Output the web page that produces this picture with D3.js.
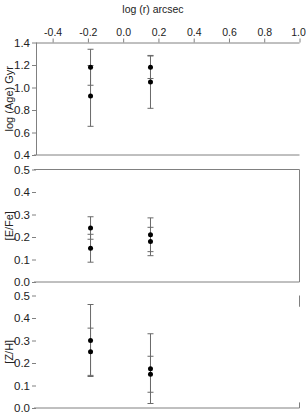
<!DOCTYPE html>
<html>
<head>
<meta charset="utf-8">
<script src="https://cdn.jsdelivr.net/npm/d3@7/dist/d3.min.js"></script>
<style>
	body { margin: 0; background: #fff; }
	svg { display: block; }
	text { font-family: "Liberation Sans", Arial, sans-serif; fill: #222; }
</style>
</head>
<body>
<svg id="chart" width="306" height="414"></svg>
<script>
// radial positions, log(r) arcsec
const xPos = [-0.185, 0.155];
const xTicks = [-0.4, -0.2, 0.0, 0.2, 0.4, 0.6, 0.8, 1.0];

// log(Age) Gyr
const ageA = [1.18, 1.18];
const ageErrA = [0.16, 0.10];
const ageB = [0.925, 1.05];
const ageErrB = [0.27, 0.235];

// [E/Fe]
const efeA = [0.24, 0.21];
const efeErrA = [0.05, 0.075];
const efeB = [0.15, 0.18];
const efeErrB = [0.062, 0.063];

// [Z/H]
const zhA = [0.30, 0.175];
const zhErrA = [0.16, 0.155];
const zhB = [0.25, 0.15];
const zhErrB = [0.105, 0.08];

const ageTicks = [0.4, 0.6, 0.8, 1.0, 1.2, 1.4];
const abTicks = [0.0, 0.1, 0.2, 0.3, 0.4, 0.5];

let svg = d3.select('#chart'),
	left = 36, right = 299.5,
	axisCol = '#808080',
	barCol = '#6a6a6a',
	fmt = d => d.toFixed(1);

let x = d3.scaleLinear().domain([-0.5, 1.0]).range([35, 299.5]);

let panels = [
	{ top: 42.5, bottom: 155, domain: [0.4, 1.4], ticks: ageTicks, title: 'log (Age)  Gyr',
	  series: [[ageB, ageErrB], [ageA, ageErrA]], leftLine: true, frame: 'bottom' },
	{ top: 169.5, bottom: 282, domain: [0, 0.5], ticks: abTicks, title: '[E/Fe]',
	  series: [[efeB, efeErrB], [efeA, efeErrA]], leftLine: false, frame: 'box' },
	{ top: 295.5, bottom: 408, domain: [0, 0.5], ticks: abTicks, title: '[Z/H]',
	  series: [[zhB, zhErrB], [zhA, zhErrA]], leftLine: false, frame: 'partial' }
];

// top x axis
let xAxis = svg.append('g')
	.attr('transform', `translate(0, ${panels[0].top})`)
	.call(d3.axisTop(x).tickValues(xTicks).tickFormat(fmt).tickSize(4).tickSizeOuter(0));
xAxis.select('.domain').attr('stroke', axisCol).attr('d', `M${left},0.5H${right}`);
xAxis.selectAll('.tick line').attr('stroke', axisCol);
xAxis.selectAll('.tick text')
	.attr('font-size', 10.5)
	.attr('fill', '#222')
	.attr('font-family', '"Liberation Sans", Arial, sans-serif')
	.attr('y', -7);
// keep the last label inside the picture
xAxis.selectAll('.tick text').filter(d => d === 1.0).attr('dx', -1.5);

svg.append('text')
	.attr('x', 153)
	.attr('y', 13)
	.attr('text-anchor', 'middle')
	.attr('font-size', 10.5)
	.text('log (r)  arcsec');

panels.forEach(p => {
	let y = d3.scaleLinear().domain(p.domain).range([p.bottom, p.top]);
	let g = svg.append('g');

	let yAxis = g.append('g')
		.attr('transform', `translate(${left}, 0)`)
		.call(d3.axisLeft(y).tickValues(p.ticks).tickFormat(fmt).tickSize(4).tickSizeOuter(0));
	yAxis.selectAll('.tick line').attr('stroke', axisCol);
	yAxis.selectAll('.tick text')
		.attr('font-size', 11.5)
		.attr('fill', '#222')
		.attr('font-family', '"Liberation Sans", Arial, sans-serif')
		.attr('x', -6);
	if (p.leftLine) {
		yAxis.select('.domain').attr('stroke', axisCol).attr('d', `M0.5,${p.top}V${p.bottom}`);
	} else {
		yAxis.select('.domain').remove();
	}

	// frame lines
	let fr = g.append('g').attr('stroke', axisCol).attr('fill', 'none');
	fr.append('line').attr('x1', left - 2).attr('x2', right)
		.attr('y1', y(p.domain[0])).attr('y2', y(p.domain[0]));
	if (p.frame === 'box') {
		fr.append('line').attr('x1', left - 2).attr('x2', right)
			.attr('y1', y(p.domain[1])).attr('y2', y(p.domain[1]));
		fr.append('line').attr('x1', right).attr('x2', right)
			.attr('y1', y(p.domain[1])).attr('y2', y(p.domain[0]));
	}
	if (p.frame === 'partial') {
		fr.append('line').attr('x1', right).attr('x2', right)
			.attr('y1', y(p.domain[1])).attr('y2', y(0.45));
		fr.append('line').attr('x1', right).attr('x2', right)
			.attr('y1', y(0.025)).attr('y2', y(p.domain[0]));
	}

	g.append('text')
		.attr('transform', `translate(13, ${(p.top + p.bottom) / 2}) rotate(-90)`)
		.attr('text-anchor', 'middle')
		.attr('font-size', 11)
		.text(p.title);

	// error bars, then points
	p.series.forEach(([vals, errs]) => {
		let data = vals.map((v, i) => ({ x: xPos[i], y: v, e: errs[i] }));
		let bars = g.selectAll(null).data(data).enter().append('g')
			.attr('stroke', barCol).attr('stroke-width', 1);
		bars.append('line')
			.attr('x1', d => x(d.x)).attr('x2', d => x(d.x))
			.attr('y1', d => y(d.y - d.e)).attr('y2', d => y(d.y + d.e));
		bars.append('line')
			.attr('x1', d => x(d.x) - 3).attr('x2', d => x(d.x) + 3)
			.attr('y1', d => y(d.y + d.e)).attr('y2', d => y(d.y + d.e));
		bars.append('line')
			.attr('x1', d => x(d.x) - 3).attr('x2', d => x(d.x) + 3)
			.attr('y1', d => y(d.y - d.e)).attr('y2', d => y(d.y - d.e));
	});
	p.series.forEach(([vals]) => {
		g.selectAll(null).data(vals).enter().append('circle')
			.attr('cx', (d, i) => x(xPos[i]))
			.attr('cy', d => y(d))
			.attr('r', 2.5)
			.attr('fill', '#000');
	});
});
</script>
</body>
</html>
